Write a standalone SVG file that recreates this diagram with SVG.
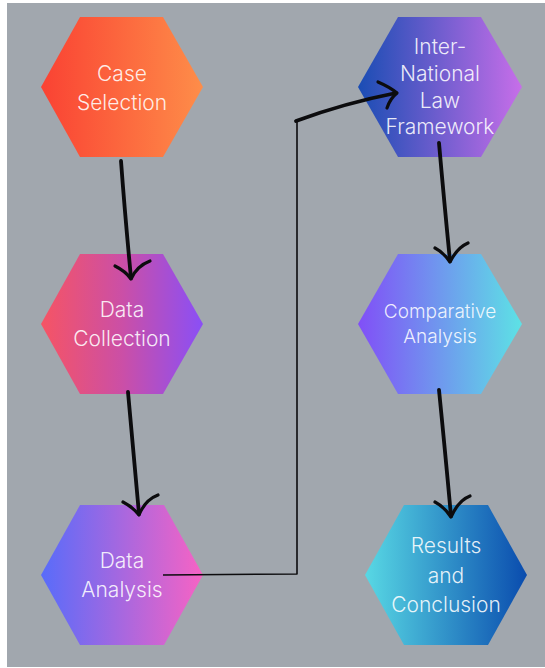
<svg xmlns="http://www.w3.org/2000/svg" width="545" height="668" viewBox="0 0 545 668">
  <defs>
    <linearGradient id="gCase" x1="0" y1="0" x2="1" y2="0">
      <stop offset="0" stop-color="#fa4233"/>
      <stop offset="1" stop-color="#fe8d49"/>
    </linearGradient>
    <linearGradient id="gCollect" x1="0" y1="0" x2="1" y2="0">
      <stop offset="0" stop-color="#f65464"/>
      <stop offset="0.5" stop-color="#cb4fa6"/>
      <stop offset="1" stop-color="#8a4ff6"/>
    </linearGradient>
    <linearGradient id="gAnalysis" x1="0" y1="0" x2="1" y2="0">
      <stop offset="0" stop-color="#586cfa"/>
      <stop offset="1" stop-color="#f763c4"/>
    </linearGradient>
    <linearGradient id="gLaw" x1="0" y1="0" x2="1" y2="0">
      <stop offset="0" stop-color="#1a4db4"/>
      <stop offset="1" stop-color="#c76ee9"/>
    </linearGradient>
    <linearGradient id="gCompare" x1="0" y1="0" x2="1" y2="0">
      <stop offset="0" stop-color="#814ff7"/>
      <stop offset="1" stop-color="#5de2e5"/>
    </linearGradient>
    <linearGradient id="gResults" x1="0" y1="0" x2="1" y2="0">
      <stop offset="0" stop-color="#58d8e4"/>
      <stop offset="1" stop-color="#0a4cae"/>
    </linearGradient>
  </defs>
  <style>
    .label { font-family: Inter, "Open Sans", "Liberation Sans", sans-serif; font-size: 21px; font-weight: 300; fill: #ffffff; fill-opacity: 0.88; text-anchor: middle; }
    .small { font-size: 19px; }
    .stroke { fill: none; stroke: #0c0c0e; stroke-linecap: round; stroke-linejoin: round; }
    .bold { stroke-width: 3.8; }
    .head { stroke-width: 3.2; }
    .thin { stroke-width: 1.6; stroke-linecap: butt; }
  </style>

  <!-- page -->
  <rect x="0" y="0" width="545" height="668" fill="#ffffff"/>
  <rect x="7" y="3" width="538" height="664" fill="#a1a7ae"/>

  <!-- left column -->
  <g id="case-selection">
    <polygon points="41,87 80,17 163,17 203,87 163,157 80,157" fill="url(#gCase)"/>
    <text class="label" x="122" y="81">Case</text>
    <text class="label" x="122" y="110">Selection</text>
  </g>
  <g id="data-collection">
    <polygon points="41,324 80,254 163,254 203,324 163,394 80,394" fill="url(#gCollect)"/>
    <text class="label" x="122" y="317">Data</text>
    <text class="label" x="122" y="346">Collection</text>
  </g>
  <g id="data-analysis">
    <polygon points="41,575 80,505 164,505 203,575 164,645 80,645" fill="url(#gAnalysis)"/>
    <text class="label" x="122" y="568">Data</text>
    <text class="label" x="122" y="597">Analysis</text>
  </g>

  <!-- right column -->
  <g id="international-law-framework">
    <polygon points="358,87 398,17 481,17 522,87 481,157 398,157" fill="url(#gLaw)"/>
    <text class="label" x="440" y="54">Inter-</text>
    <text class="label" x="440" y="81">National</text>
    <text class="label" x="440" y="108">Law</text>
    <text class="label" x="440" y="134">Framework</text>
  </g>
  <g id="comparative-analysis">
    <polygon points="358,324 398,254 481,254 522,324 481,394 398,394" fill="url(#gCompare)"/>
    <text class="label small" x="440" y="318">Comparative</text>
    <text class="label small" x="440" y="343">Analysis</text>
  </g>
  <g id="results-conclusion">
    <polygon points="365,575 404,505 488,505 527,575 488,645 404,645" fill="url(#gResults)"/>
    <text class="label" x="446" y="553">Results</text>
    <text class="label" x="446" y="583">and</text>
    <text class="label" x="446" y="612">Conclusion</text>
  </g>

  <!-- connectors -->
  <g id="connectors">
    <!-- Case Selection to Data Collection -->
    <path class="stroke bold" d="M121,161 Q125,215 131,278"/>
    <path class="stroke head" d="M115,266 C121,269 127,273 131,279 C135,270 142,264 150,261"/>
    <!-- Data Collection to Data Analysis -->
    <path class="stroke bold" d="M128,392 Q133,450 139,514"/>
    <path class="stroke head" d="M123,502 C129,505 135,510 139,515 C143,505 150,498 158,495"/>
    <!-- Data Analysis to Inter-National Law Framework -->
    <path class="stroke thin" d="M163,575 L297,574 L297,121"/>
    <path class="stroke bold" d="M296,121 Q345,103 396,93"/>
    <path class="stroke head" d="M378,82 C385,85 392,89 397,93 C392,97 389,102 387,108"/>
    <!-- Inter-National Law Framework to Comparative Analysis -->
    <path class="stroke bold" d="M439,143 Q444,200 450,261"/>
    <path class="stroke head" d="M435,248 C441,251 446,256 450,262 C455,252 461,246 468,243"/>
    <!-- Comparative Analysis to Results and Conclusion -->
    <path class="stroke bold" d="M439,390 Q445,450 451,516"/>
    <path class="stroke head" d="M435,502 C441,505 447,511 451,517 C456,506 462,499 470,496"/>
  </g>
</svg>
